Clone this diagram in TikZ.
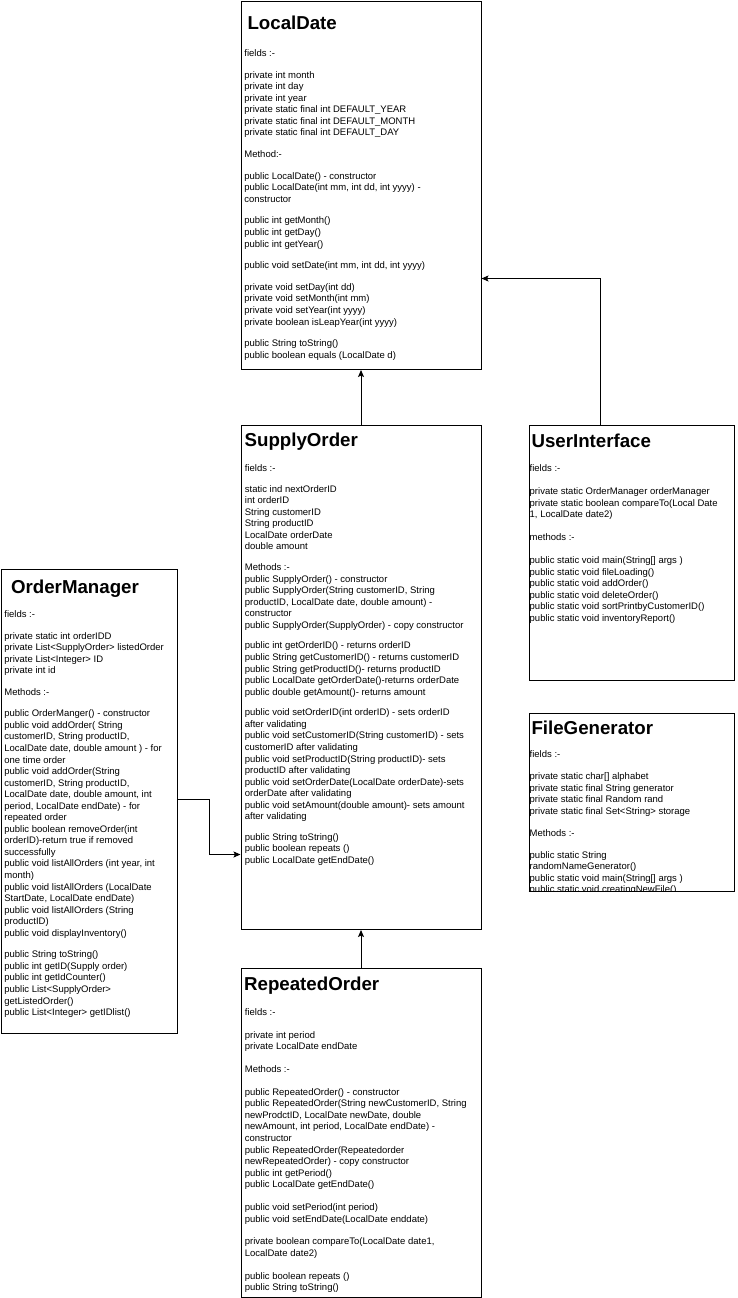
\documentclass[tikz,border=0pt]{standalone}
\usepackage{fontspec}
\setmainfont{Liberation Sans}
\usetikzlibrary{arrows.meta}
\begin{document}
\begin{tikzpicture}[x=1pt,y=-1pt]
\tikzset{
 umlbox/.style={draw=black, line width=1pt, fill=white, inner sep=0pt, anchor=north west},
 umltitle/.style={inner sep=0pt, anchor=base west, font=\fontsize{18.7}{22}\selectfont\bfseries},
 umlbody/.style={inner sep=0pt, anchor=north west, align=left, font=\fontsize{9.5}{11.55}\selectfont},
 conn/.style={draw=black, line width=0.9pt, -{Stealth[length=7pt,width=6pt,inset=1.5pt]}}
}
\useasboundingbox (0,0) rectangle (738,1298);
\fill[white] (0,0) rectangle (738,1298);

% boxes
\node[umlbox, minimum width=240pt, minimum height=368pt] (ld) at (240.5,1) {};
\node[umlbox, minimum width=240pt, minimum height=504pt] (so) at (240.5,425) {};
\node[umlbox, minimum width=240pt, minimum height=328.5pt] (ro) at (240.5,968) {};
\node[umlbox, minimum width=175.5pt, minimum height=463.5pt] (om) at (1,569) {};
\node[umlbox, minimum width=205.5pt, minimum height=255.5pt] (ui) at (528.5,424.5) {};
\node[umlbox, minimum width=205.5pt, minimum height=177.5pt] (fg) at (528.5,713) {};

% LocalDate
\node[umltitle] (ldT) at ([xshift=6.8pt,yshift=-29pt]ld.north west) {LocalDate};
\node[umlbody] (ldB) at ([xshift=3.7pt,yshift=-47.7pt]ld.north west) {\rule{0pt}{7.6pt}fields :-\\[10.1pt]
private int month\\
private int day\\
private int year\\
private static final int DEFAULT\_YEAR\\
private static final int DEFAULT\_MONTH\\
private static final int DEFAULT\_DAY\\[10.1pt]
Method:-\\[10.1pt]
public LocalDate() - constructor\\
public LocalDate(int mm, int dd, int yyyy) -\\
constructor\\[10.1pt]
public int getMonth()\\
public int getDay()\\
public int getYear()\\[10.1pt]
public void setDate(int mm, int dd, int yyyy)\\[10.1pt]
private void setDay(int dd)\\
private void setMonth(int mm)\\
private void setYear(int yyyy)\\
private boolean isLeapYear(int yyyy)\\[10.1pt]
public String toString()\\
public boolean equals (LocalDate d)};

% SupplyOrder
\node[umltitle] (soT) at ([xshift=3.9pt,yshift=-21.7pt]so.north west) {SupplyOrder};
\node[umlbody] (soB) at ([xshift=4.2pt,yshift=-38.7pt]so.north west) {\rule{0pt}{7.6pt}fields :-\\[9.1pt]
static ind nextOrderID\\
int orderID\\
String customerID\\
String productID\\
LocalDate orderDate\\
double amount\\[9.1pt]
Methods :-\\
public SupplyOrder() - constructor\\
public SupplyOrder(String customerID, String\\
productID, LocalDate date, double amount) -\\
constructor\\
public SupplyOrder(SupplyOrder) - copy constructor\\[9.1pt]
public int getOrderID() - returns orderID\\
public String getCustomerID() - returns customerID\\
public String getProductID()- returns productID\\
public LocalDate getOrderDate()-returns orderDate\\
public double getAmount()- returns amount\\[9.1pt]
public void setOrderID(int orderID) - sets orderID\\
after validating\\
public void setCustomerID(String customerID) - sets\\
customerID after validating\\
public void setProductID(String productID)- sets\\
productID after validating\\
public void setOrderDate(LocalDate orderDate)-sets\\
orderDate after validating\\
public void setAmount(double amount)- sets amount\\
after validating\\[9.1pt]
public String toString()\\
public boolean repeats ()\\
public LocalDate getEndDate()};

% RepeatedOrder
\node[umltitle] (roT) at ([xshift=3.4pt,yshift=-22.5pt]ro.north west) {RepeatedOrder};
\node[umlbody] (roB) at ([xshift=4.2pt,yshift=-39.7pt]ro.north west) {\rule{0pt}{7.6pt}fields :-\\[11.2pt]
private int period\\
private LocalDate endDate\\[11.2pt]
Methods :-\\[11.2pt]
public RepeatedOrder() - constructor\\
public RepeatedOrder(String newCustomerID, String\\
newProdctID, LocalDate newDate, double\\
newAmount, int period, LocalDate endDate) -\\
constructor\\
public RepeatedOrder(Repeatedorder\\
newRepeatedOrder) - copy constructor\\
public int getPeriod()\\
public LocalDate getEndDate()\\[11.2pt]
public void setPeriod(int period)\\
public void setEndDate(LocalDate enddate)\\[11.2pt]
private boolean compareTo(LocalDate date1,\\
LocalDate date2)\\[11.2pt]
public boolean repeats ()\\
public String toString()};

% OrderManager
\node[umltitle] (omT) at ([xshift=9.9pt,yshift=-24pt]om.north west) {OrderManager};
\node[umlbody] (omB) at ([xshift=3.2pt,yshift=-40.7pt]om.north west) {\rule{0pt}{7.6pt}fields :-\\[10pt]
private static int orderIDD\\
private List<SupplyOrder> listedOrder\\
private List<Integer> ID\\
private int id\\[10pt]
Methods :-\\[10pt]
public OrderManger() - constructor\\
public void addOrder( String\\
customerID, String productID,\\
LocalDate date, double amount ) - for\\
one time order\\
public void addOrder(String\\
customerID, String productID,\\
LocalDate date, double amount, int\\
period, LocalDate endDate) - for\\
repeated order\\
public boolean removeOrder(int\\
orderID)-return true if removed\\
successfully\\
public void listAllOrders (int year, int\\
month)\\
public void listAllOrders (LocalDate\\
StartDate, LocalDate endDate)\\
public void listAllOrders (String\\
productID)\\
public void displayInventory()\\[10pt]
public String toString()\\
public int getID(Supply order)\\
public int getIdCounter()\\
public List<SupplyOrder>\\
getListedOrder()\\
public List<Integer> getIDlist()};

% UserInterface
\node[umltitle] (uiT) at ([xshift=2.8pt,yshift=-22.5pt]ui.north west) {UserInterface};
\node[umlbody] (uiB) at ([xshift=1pt,yshift=-39.2pt]ui.north west) {\rule{0pt}{7.6pt}fields :-\\[11.5pt]
private static OrderManager orderManager\\
private static boolean compareTo(Local Date\\
1, LocalDate date2)\\[11.5pt]
methods :-\\[11.5pt]
public static void main(String[] args )\\
public static void fileLoading()\\
public static void addOrder()\\
public static void deleteOrder()\\
public static void sortPrintbyCustomerID()\\
public static void inventoryReport()};

% FileGenerator
\node[umltitle] (fgT) at ([xshift=2.8pt,yshift=-21pt]fg.north west) {FileGenerator};
\begin{scope}
\clip (fg.north west) rectangle (fg.south east);
\node[umlbody] (fgB) at ([xshift=1pt,yshift=-36.7pt]fg.north west) {\rule{0pt}{7.6pt}fields :-\\[10.5pt]
private static char[] alphabet\\
private static final String generator\\
private static final Random rand\\
private static final Set<String> storage\\[10.5pt]
Methods :-\\[10.5pt]
public static String\\
randomNameGenerator()\\
public static void main(String[] args )\\
public static void creatingNewFile()};
\end{scope}
\draw[line width=1pt] (fg.south west) -- (fg.south east);

% connectors
\draw[conn] (so.north) -- (ld.south);
\draw[conn] ([xshift=72pt]ui.north west) |- ([yshift=-93pt]ld.east);
\draw[conn] ([yshift=1.5pt]om.east) -- ++(32,0) |- ([yshift=-177pt]so.west);
\draw[conn] (ro.north) -- (so.south);
\end{tikzpicture}
\end{document}
